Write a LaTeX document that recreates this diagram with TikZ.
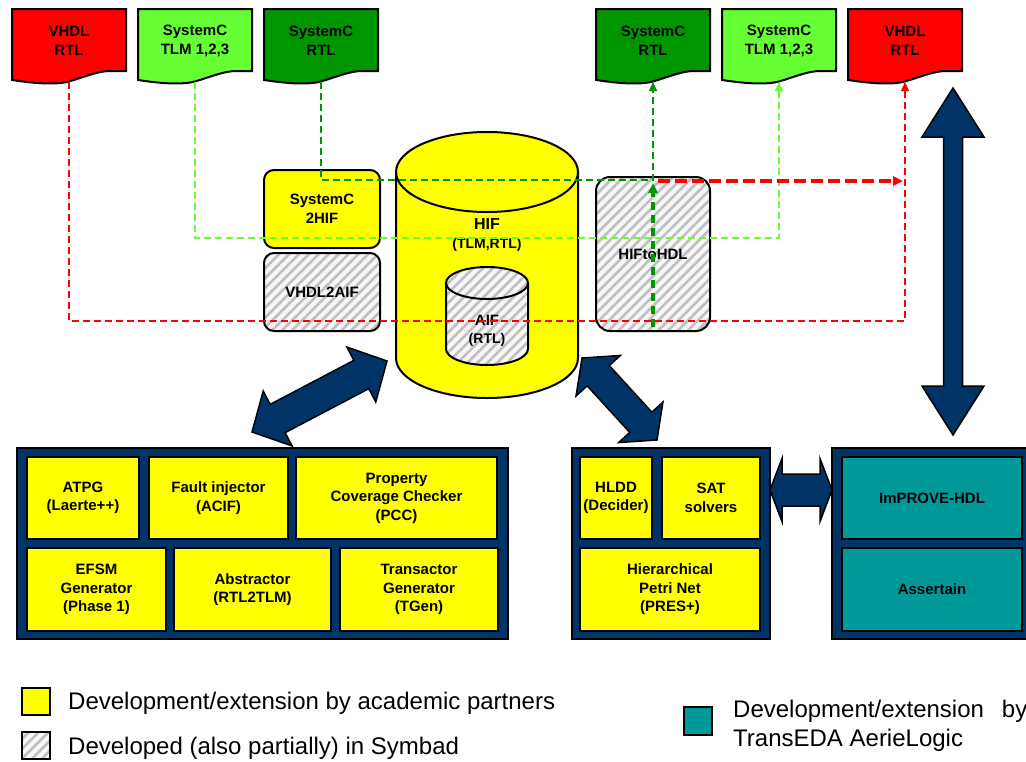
\documentclass[tikz,border=0pt]{standalone}
\usepackage{fontspec}
\setmainfont{Liberation Sans}
\usetikzlibrary{calc,patterns.meta,arrows.meta}
\definecolor{cred}{RGB}{255,0,0}
\definecolor{lgreen}{RGB}{102,255,51}
\definecolor{dgreen}{RGB}{0,150,0}
\definecolor{navy}{RGB}{0,51,102}
\definecolor{cyel}{RGB}{255,255,0}
\definecolor{cteal}{RGB}{0,153,153}
\tikzset{
  lbl/.style={font=\bfseries\fontsize{15}{18.5}\selectfont, align=center, inner sep=0pt, text=black},
  ybox/.style={draw=black, line width=2pt, fill=cyel, lbl},
  tbox/.style={draw=black, line width=2pt, fill=cteal, lbl},
  panel/.style={draw=black, line width=2pt, fill=navy},
  hatch/.style={preaction={fill=gray!6}, pattern={Lines[angle=45,distance=7pt,line width=2.6pt]}, pattern color=gray!50},
  hbox/.style={draw=black, line width=2pt, hatch, lbl},
  docsh/.style={draw=black, line width=2pt},
  fatarr/.style={fill=navy, draw=black, line width=1.5pt, line join=miter},
  thinred/.style={draw=cred, line width=2pt, dash pattern=on 7pt off 4pt},
  thinlg/.style={draw=lgreen, line width=2pt, dash pattern=on 7pt off 4pt},
  thindg/.style={draw=dgreen, line width=2pt, dash pattern=on 7pt off 4pt},
  tip/.style={-{Triangle[length=9pt,width=8pt]}},
  legtxt/.style={font=\fontsize{24}{29}\selectfont, inner sep=0pt, align=left, anchor=west}
}
\newcommand\docshape[2]{%
  \path[docsh, fill=#2] (#1,9) -- (#1+114,9) -- (#1+114,71) -- (#1+98,71)
    .. controls (#1+85,71) and (#1+70,78) .. (#1+55,82)
    .. controls (#1+40,85) and (#1+20,83) .. (#1,80) -- cycle;}
\newcommand\bigdarrow[5]{%
  \coordinate (#1h) at ($(#1)!#5!(#2)$);
  \coordinate (#2h) at ($(#2)!#5!(#1)$);
  \path[fatarr] (#1) -- ($(#1h)!#4!90:(#2)$) -- ($(#1h)!#3!90:(#2)$)
    -- ($(#2h)!#3!-90:(#1)$) -- ($(#2h)!#4!-90:(#1)$) -- (#2)
    -- ($(#2h)!#4!90:(#1)$) -- ($(#2h)!#3!90:(#1)$)
    -- ($(#1h)!#3!-90:(#2)$) -- ($(#1h)!#4!-90:(#2)$) -- cycle;}
\begin{document}
\begin{tikzpicture}[x=1pt,y=-1pt]
\useasboundingbox (0,0) rectangle (1026,761);
\begin{scope}
\clip (0,0) rectangle (1026,761);
\fill[white] (0,0) rectangle (1026,761);

% documents
\docshape{12}{cred}
\docshape{138}{lgreen}
\docshape{264}{dgreen}
\docshape{596}{dgreen}
\docshape{722}{lgreen}
\docshape{848}{cred}
\node[lbl] (d1) at (69,41) {VHDL\\RTL};
\node[lbl] (d2) at (195,41) {SystemC\\TLM 1,2,3};
\node[lbl] (d3) at (321,41) {SystemC\\RTL};
\node[lbl] (d4) at (653,41) {SystemC\\RTL};
\node[lbl] (d5) at (779,41) {SystemC\\TLM 1,2,3};
\node[lbl] (d6) at (905,41) {VHDL\\RTL};
\coordinate (d1b) at (69,82);
\coordinate (d2b) at (195,82);
\coordinate (d3b) at (321,82);
\coordinate (d4b) at (653,82);
\coordinate (d5b) at (779,82);
\coordinate (d6b) at (905,82);

% translator boxes
\node[ybox, rounded corners=10pt, minimum width=116pt, minimum height=78pt] (sc2hif) at (322,209) {SystemC\\2HIF};
\node[hbox, rounded corners=10pt, minimum width=116pt, minimum height=78pt] (vhdl2aif) at (322,292) {VHDL2AIF};
\node[hbox, rounded corners=14pt, minimum width=114pt, minimum height=154pt] (hiftohdl) at (653,254) {HIFtoHDL};

% HIF cylinder
\fill[cyel] (396,172) -- (396,358) arc[start angle=180, end angle=360, x radius=91pt, y radius=40pt] -- (578,172) -- cycle;
\fill[cyel] (487,172) ellipse[x radius=91pt, y radius=40pt];
\draw[line width=2pt] (396,172) -- (396,358) arc[start angle=180, end angle=360, x radius=91pt, y radius=40pt] -- (578,172);
\draw[line width=2pt] (487,172) ellipse[x radius=91pt, y radius=40pt];
\node[lbl] (hif) at (487,235) {\fontsize{16}{18}\selectfont HIF\\\fontsize{14}{18}\selectfont (TLM,RTL)};

% AIF cylinder
\path[hatch] (446,283) -- (446,349) arc[start angle=180, end angle=360, x radius=41pt, y radius=16pt] -- (528,283) arc[start angle=0, end angle=180, x radius=41pt, y radius=16pt] -- cycle;
\draw[line width=2pt] (446,283) -- (446,349) arc[start angle=180, end angle=360, x radius=41pt, y radius=16pt] -- (528,283);
\draw[line width=2pt] (487,283) ellipse[x radius=41pt, y radius=16pt];
\node[lbl] (aif) at (487,331) {\fontsize{15}{18}\selectfont AIF\\\fontsize{14}{18}\selectfont (RTL)};

% bottom panels
\node[panel, minimum width=491pt, minimum height=191pt] (panL) at (262.5,543.5) {};
\node[ybox, minimum width=112pt, minimum height=82pt] (atpg) at (83,498) {ATPG\\(Laerte++)};
\node[ybox, minimum width=139pt, minimum height=82pt] (fault) at (218.5,498) {Fault injector\\(ACIF)};
\node[ybox, minimum width=201pt, minimum height=82pt] (pcc) at (396.5,498) {Property\\Coverage Checker\\(PCC)};
\node[ybox, minimum width=139pt, minimum height=83pt] (efsm) at (96.5,589.5) {EFSM\\Generator\\(Phase 1)};
\node[ybox, minimum width=157pt, minimum height=83pt] (abstr) at (252.5,589.5) {Abstractor\\(RTL2TLM)};
\node[ybox, minimum width=158pt, minimum height=83pt] (tgen) at (419,589.5) {Transactor\\Generator\\(TGen)};

\node[panel, minimum width=198pt, minimum height=191pt] (panM) at (671,543.5) {};
\node[ybox, minimum width=72pt, minimum height=82pt] (hldd) at (616,498) {HLDD\\(Decider)};
\node[ybox, minimum width=98pt, minimum height=82pt] (sat) at (711,498) {SAT\\solvers};
\node[ybox, minimum width=180pt, minimum height=83pt] (petri) at (670,589.5) {Hierarchical\\Petri Net\\(PRES+)};

\node[panel, minimum width=210pt, minimum height=191pt] (panR) at (937,543.5) {};
\node[tbox, minimum width=180pt, minimum height=82pt] (improve) at (932,498) {ImPROVE-HDL};
\node[tbox, minimum width=180pt, minimum height=83pt] (assertain) at (932,589.5) {Assertain};

% big double arrows
\coordinate (la1) at (252,432);
\coordinate (la2) at (387,361);
\bigdarrow{la1}{la2}{16pt}{31pt}{29pt}
\coordinate (ra1) at (582,358);
\coordinate (ra2) at (657,440);
\bigdarrow{ra1}{ra2}{15pt}{30pt}{24pt}
\coordinate (va1) at (953,88);
\coordinate (va2) at (953,435);
\bigdarrow{va1}{va2}{9.5pt}{31pt}{49pt}
\coordinate (ha1) at (770,490);
\coordinate (ha2) at (832,490);
\bigdarrow{ha1}{ha2}{16pt}{31.5pt}{12pt}

% dashed connectors
\coordinate (rc) at (905,321);
\coordinate (lc) at (779,238);
\coordinate (gc) at (653,180);
\draw[thinred, tip] (d1b) |- (rc) -- (d6b);
\draw[thinlg, tip] (d2b) |- (lc) -- (d5b);
\draw[thindg, tip] (d3b) |- (gc) -- (d4b);
\coordinate (gthick) at (653,183);
\draw[draw=dgreen, line width=4pt, dash pattern=on 8pt off 5pt, -{Triangle[length=10pt,width=9pt]}, shorten <=5pt] (hiftohdl.south) -- (gthick);
\coordinate (rt1) at (658,181);
\coordinate (rt2) at (903,181);
\draw[draw=cred, line width=4pt, dash pattern=on 12pt off 5pt, -{Triangle[length=10pt,width=9pt]}] (rt1) -- (rt2);

% legend
\node[draw=black, line width=2pt, fill=cyel, minimum width=28pt, minimum height=27pt, inner sep=0pt] (legy) at (36,701.5) {};
\node[legtxt] (legyt) at (68,703) {Development/extension by academic partners};
\node[draw=black, line width=2pt, hatch, minimum width=28pt, minimum height=27pt, inner sep=0pt] (legh) at (36,745.5) {};
\node[legtxt] (leght) at (68,748) {Developed (also partially) in Symbad};
\node[draw=black, line width=2pt, fill=cteal, minimum width=28pt, minimum height=28pt, inner sep=0pt] (legt) at (698,721) {};
\node[legtxt] (legtt) at (733,725.5) {Development/extension\hspace{18pt}by\\TransEDA AerieLogic};
\end{scope}
\end{tikzpicture}
\end{document}
